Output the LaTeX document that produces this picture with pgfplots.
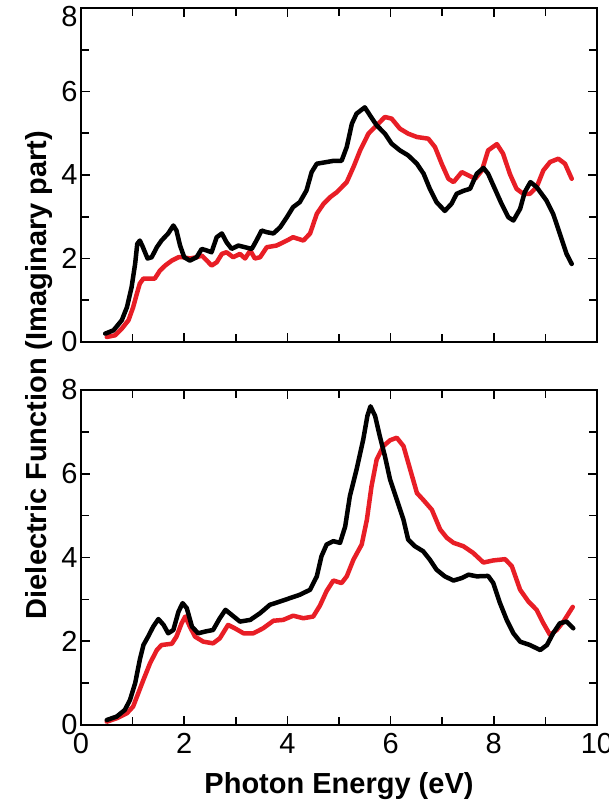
\documentclass[border=0pt]{standalone}
\usepackage{fontspec}
\setmainfont{Liberation Sans}
\usepackage{pgfplots}
\pgfplotsset{compat=1.18}
\definecolor{myred}{RGB}{232,30,38}
\pgfplotsset{
  panel/.style={
    scale only axis, width=516pt, height=334pt,
    xmin=0, xmax=10, ymin=0, ymax=8,
    xtick={0,2,...,10}, ytick={0,2,...,8},
    minor xtick={1,3,...,9}, minor ytick={1,3,...,7},
    tick align=inside, major tick length=9pt, minor tick length=8pt,
    every tick/.style={line width=1.6pt, black},
    axis line style={line width=2pt},
    tick label style={font=\fontsize{29}{32}\selectfont},
    /pgf/number format/assume math mode=true,
    xticklabel style={yshift=-5pt},
  },
  blk/.style={black, line width=4.5pt, line join=round, line cap=round},
  rd/.style={myred, line width=4.5pt, line join=round, line cap=round},
}
\begin{document}
\begin{tikzpicture}
\path[use as bounding box] (-81pt,-81pt) rectangle (527pt,725pt);
% top panel
\begin{axis}[panel, at={(0pt,383pt)}, anchor=south west, xticklabels={},
  ytick={0,2,4,6}, extra y ticks={8},
  extra y tick style={yticklabel style={yshift=-9pt}}]
\addplot[rd] coordinates {
(0.50,0.12) (0.66,0.16) (0.79,0.32) (0.92,0.52) (1.01,0.83) (1.09,1.19) (1.14,1.40) (1.21,1.52) (1.34,1.52) (1.43,1.52)
(1.53,1.71) (1.63,1.83) (1.76,1.95) (1.89,2.03) (1.98,2.03) (2.11,2.00) (2.24,2.03) (2.34,2.07) (2.44,1.95) (2.53,1.83)
(2.63,1.91) (2.73,2.11) (2.82,2.15) (2.95,2.03) (3.08,2.11) (3.18,2.00) (3.28,2.19) (3.37,2.00) (3.47,2.03) (3.60,2.27)
(3.79,2.31) (3.99,2.43) (4.11,2.51) (4.31,2.43) (4.44,2.60) (4.57,3.07) (4.70,3.31) (4.83,3.47) (4.96,3.59) (5.15,3.83)
(5.28,4.19) (5.41,4.59) (5.57,4.99) (5.73,5.19) (5.89,5.39) (6.02,5.35) (6.18,5.11) (6.34,4.99) (6.51,4.91) (6.73,4.87)
(6.86,4.67) (6.99,4.27) (7.12,3.91) (7.22,3.83) (7.38,4.07) (7.51,3.99) (7.64,3.91) (7.77,4.11) (7.89,4.59) (8.06,4.74)
(8.18,4.51) (8.31,4.03) (8.44,3.67) (8.57,3.55) (8.70,3.55) (8.83,3.71) (8.96,4.11) (9.09,4.31) (9.25,4.39) (9.38,4.27)
(9.51,3.91)};
\addplot[blk] coordinates {
(0.47,0.20) (0.63,0.28) (0.79,0.52) (0.89,0.83) (0.98,1.31) (1.05,1.88) (1.09,2.35) (1.14,2.43) (1.19,2.30) (1.29,2.00)
(1.37,2.03) (1.47,2.27) (1.56,2.43) (1.69,2.60) (1.79,2.79) (1.85,2.67) (1.92,2.31) (2.00,2.03) (2.11,1.95) (2.24,2.03)
(2.34,2.23) (2.44,2.19) (2.53,2.15) (2.63,2.51) (2.73,2.60) (2.82,2.39) (2.92,2.23) (3.05,2.31) (3.18,2.27) (3.31,2.23)
(3.40,2.43) (3.50,2.67) (3.60,2.63) (3.73,2.60) (3.86,2.75) (3.99,2.99) (4.11,3.23) (4.24,3.35) (4.37,3.63) (4.47,4.07)
(4.57,4.27) (4.76,4.31) (4.90,4.34) (5.05,4.34) (5.15,4.67) (5.25,5.23) (5.34,5.47) (5.50,5.62) (5.60,5.43) (5.73,5.19)
(5.89,4.99) (6.02,4.75) (6.18,4.59) (6.34,4.47) (6.51,4.27) (6.64,4.03) (6.76,3.67) (6.89,3.35) (7.05,3.14) (7.18,3.31)
(7.28,3.55) (7.41,3.62) (7.54,3.67) (7.67,4.03) (7.80,4.17) (7.89,4.03) (8.02,3.67) (8.15,3.31) (8.28,2.99) (8.38,2.91)
(8.51,3.19) (8.60,3.59) (8.71,3.83) (8.83,3.71) (9.02,3.39) (9.15,3.07) (9.28,2.59) (9.41,2.11) (9.51,1.87)};
\end{axis}
% bottom panel
\begin{axis}[panel, at={(0pt,0pt)}, anchor=south west, height=335pt]
\addplot[rd] coordinates {
(0.50,0.08) (0.69,0.16) (0.89,0.28) (1.01,0.44) (1.11,0.76) (1.21,1.08) (1.34,1.48) (1.47,1.79) (1.56,1.91) (1.76,1.94)
(1.85,2.11) (1.95,2.43) (2.02,2.59) (2.11,2.35) (2.21,2.11) (2.37,1.99) (2.56,1.95) (2.69,2.07) (2.85,2.39) (2.98,2.31)
(3.15,2.19) (3.34,2.19) (3.53,2.31) (3.73,2.49) (3.92,2.51) (4.11,2.61) (4.31,2.55) (4.50,2.59) (4.63,2.85) (4.76,3.20)
(4.89,3.45) (5.05,3.39) (5.15,3.55) (5.28,3.95) (5.44,4.31) (5.54,4.90) (5.63,5.70) (5.73,6.34) (5.86,6.66) (5.99,6.80)
(6.12,6.86) (6.25,6.66) (6.38,6.10) (6.51,5.54) (6.63,5.38) (6.80,5.14) (6.96,4.67) (7.09,4.47) (7.22,4.35) (7.41,4.27)
(7.60,4.11) (7.80,3.88) (7.99,3.93) (8.22,3.96) (8.35,3.79) (8.51,3.23) (8.67,2.95) (8.83,2.75) (8.96,2.43) (9.09,2.15)
(9.22,2.27) (9.35,2.47) (9.53,2.82)};
\addplot[blk] coordinates {
(0.50,0.12) (0.69,0.20) (0.85,0.36) (0.95,0.60) (1.05,1.00) (1.14,1.56) (1.21,1.91) (1.30,2.11) (1.40,2.35) (1.50,2.53)
(1.60,2.39) (1.69,2.19) (1.79,2.27) (1.89,2.71) (1.97,2.91) (2.05,2.79) (2.15,2.35) (2.27,2.19) (2.40,2.23) (2.56,2.27)
(2.69,2.55) (2.80,2.75) (2.92,2.63) (3.08,2.47) (3.28,2.51) (3.47,2.67) (3.66,2.87) (3.86,2.95) (4.05,3.03) (4.24,3.11)
(4.44,3.23) (4.57,3.55) (4.66,4.03) (4.76,4.31) (4.89,4.39) (5.02,4.35) (5.12,4.74) (5.21,5.46) (5.34,6.10) (5.47,6.82)
(5.55,7.38) (5.61,7.61) (5.70,7.38) (5.79,6.90) (5.89,6.42) (5.99,5.86) (6.12,5.38) (6.25,4.90) (6.34,4.43) (6.47,4.27)
(6.63,4.15) (6.76,3.95) (6.89,3.71) (7.05,3.55) (7.22,3.45) (7.38,3.51) (7.51,3.59) (7.67,3.55) (7.89,3.56) (7.99,3.39)
(8.12,2.91) (8.25,2.51) (8.38,2.19) (8.51,1.99) (8.70,1.91) (8.90,1.79) (9.03,1.91) (9.15,2.19) (9.28,2.43) (9.41,2.47)
(9.54,2.31)};
\end{axis}
\node[rotate=90, anchor=base, font=\bfseries\fontsize{29}{32}\selectfont] at (-34pt,350pt) {Dielectric Function (Imaginary part)};
\node[anchor=base, font=\bfseries\fontsize{29}{32}\selectfont] at (258pt,-68pt) {Photon Energy (eV)};
\end{tikzpicture}
\end{document}
